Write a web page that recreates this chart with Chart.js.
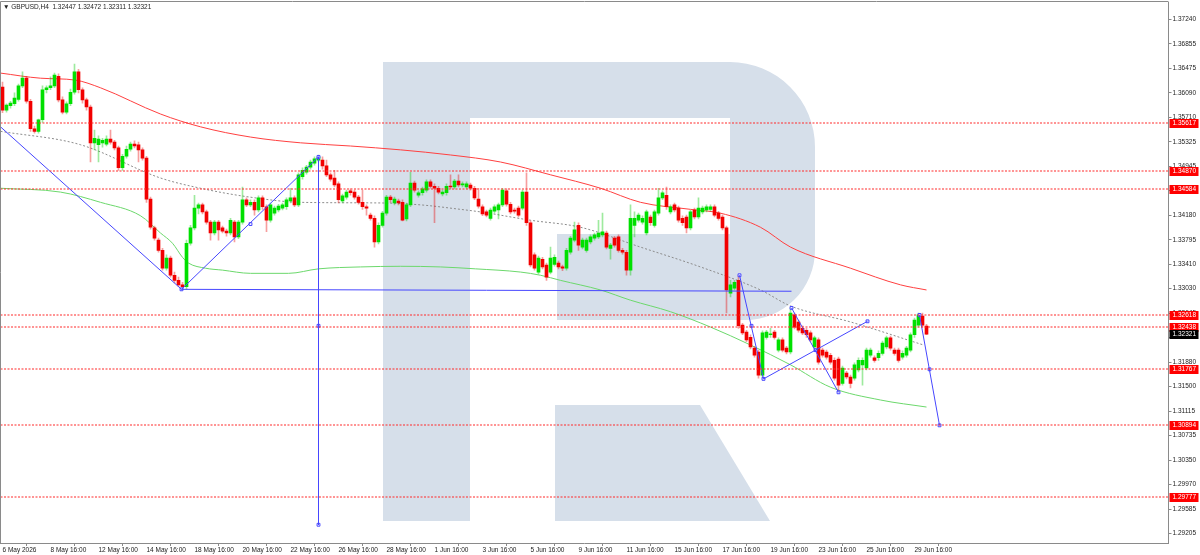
<!DOCTYPE html>
<html><head><meta charset="utf-8">
<script src="https://cdn.jsdelivr.net/npm/chart.js@4.4.1/dist/chart.umd.min.js"></script>
<style>html,body{margin:0;padding:0;background:#fff;overflow:hidden}canvas{display:block}</style>
</head><body>
<canvas id="c" width="1200" height="555"></canvas>
<script>
const symbol = 'GBPUSD,H4';
const totalSlots = 292;
const xTickBars = [0,12,24,36,48,60,72,84,96,108,120,132,144,156,168,180,192,204,216,228];
const xTickLabels = ['6 May 2026','8 May 16:00','12 May 16:00','14 May 16:00','18 May 16:00','20 May 16:00','22 May 16:00','26 May 16:00','28 May 16:00','1 Jun 16:00','3 Jun 16:00','5 Jun 16:00','9 Jun 16:00','11 Jun 16:00','15 Jun 16:00','17 Jun 16:00','19 Jun 16:00','23 Jun 16:00','25 Jun 16:00','29 Jun 16:00'];
const yTickValues = [1.37240,1.36855,1.36475,1.36090,1.35710,1.35325,1.34945,1.34560,1.34180,1.33795,1.33410,1.33030,1.32645,1.32265,1.31880,1.31500,1.31115,1.30735,1.30350,1.29970,1.29585,1.29205];
const yMin = 1.29055, yMax = 1.37511;
const levelPrices = [1.35617,1.34870,1.34584,1.32618,1.32438,1.31767,1.30894,1.29777];

const opens = [
1.3618,1.3582,1.3589,1.3592,1.3599,1.3620,1.3632,1.3596,1.3553,1.3549,
1.3567,1.3614,1.3617,1.3620,1.3635,1.3598,1.3579,1.3592,1.3610,1.3642,
1.3614,1.3598,1.3587,1.3531,1.3528,1.3531,1.3529,1.3537,1.3532,1.3523,
1.3492,1.3510,1.3521,1.3529,1.3528,1.3520,1.3507,1.3443,1.3398,1.3379,
1.3363,1.3335,1.3351,1.3324,1.3316,1.3309,1.3306,1.3374,1.3398,1.3429,
1.3434,1.3423,1.3407,1.3390,1.3407,1.3398,1.3393,1.3390,1.3407,1.3384,
1.3407,1.3442,1.3434,1.3438,1.3426,1.3445,1.3431,1.3410,1.3421,1.3426,
1.3429,1.3431,1.3440,1.3445,1.3434,1.3478,1.3485,1.3493,1.3499,1.3504,
1.3504,1.3495,1.3481,1.3476,1.3467,1.3440,1.3446,1.3456,1.3454,1.3446,
1.3438,1.3431,1.3418,1.3413,1.3376,1.3402,1.3421,1.3446,1.3437,1.3440,
1.3438,1.3412,1.3434,1.3468,1.3449,1.3453,1.3457,1.3470,1.3463,1.3460,
1.3451,1.3453,1.3463,1.3462,1.3471,1.3465,1.3462,1.3465,1.3460,1.3443,
1.3431,1.3423,1.3413,1.3424,1.3426,1.3434,1.3456,1.3435,1.3426,1.3429,
1.3429,1.3454,1.3406,1.3356,1.3329,1.3349,1.3340,1.3329,1.3341,1.3343,
1.3337,1.3335,1.3360,1.3379,1.3402,1.3368,1.3363,1.3376,1.3382,1.3384,
1.3387,1.3390,1.3366,1.3382,1.3384,1.3363,1.3360,1.3332,1.3402,1.3410,
1.3407,1.3390,1.3415,1.3402,1.3421,1.3445,1.3449,1.3423,1.3434,1.3429,
1.3413,1.3415,1.3398,1.3426,1.3415,1.3423,1.3426,1.3427,1.3431,1.3421,
1.3415,1.3398,1.3296,1.3304,1.3316,1.3246,1.3235,1.3227,1.3210,1.3204,
1.3168,1.3227,1.3231,1.3235,1.3207,1.3223,1.3210,1.3204,1.3262,1.3251,
1.3241,1.3238,1.3234,1.3212,1.3223,1.3207,1.3204,1.3199,1.3191,1.3193,
1.3155,1.3171,1.3165,1.3163,1.3176,1.3184,1.3179,1.3199,1.3195,1.3195,
1.3202,1.3212,1.3226,1.3207,1.3207,1.3196,1.3199,1.3207,1.3231,1.3246,
1.3260,1.32447];
const highs = [
1.3626,1.3592,1.3596,1.3609,1.3623,1.3642,1.3635,1.3599,1.3557,1.3568,
1.3620,1.3620,1.3634,1.3640,1.3639,1.3603,1.3595,1.3615,1.3654,1.3646,
1.3617,1.3601,1.3590,1.3551,1.3542,1.3538,1.3542,1.3551,1.3535,1.3526,
1.3513,1.3526,1.3532,1.3534,1.3532,1.3523,1.3510,1.3446,1.3401,1.3382,
1.3366,1.3356,1.3354,1.3329,1.3321,1.3313,1.3379,1.3402,1.3449,1.3437,
1.3437,1.3426,1.3410,1.3410,1.3410,1.3401,1.3396,1.3413,1.3410,1.3410,
1.3462,1.3445,1.3442,1.3442,1.3448,1.3448,1.3434,1.3437,1.3432,1.3435,
1.3437,1.3445,1.3460,1.3448,1.3484,1.3492,1.3496,1.3504,1.3509,1.3512,
1.3509,1.3504,1.3484,1.3488,1.3470,1.3451,1.3457,1.3459,1.3457,1.3449,
1.3457,1.3434,1.3421,1.3417,1.3406,1.3424,1.3449,1.3449,1.3446,1.3443,
1.3442,1.3437,1.3485,1.3471,1.3456,1.3462,1.3473,1.3473,1.3467,1.3463,
1.3457,1.3467,1.3481,1.3474,1.3481,1.3470,1.3470,1.3468,1.3463,1.3460,
1.3434,1.3426,1.3429,1.3434,1.3437,1.3460,1.3459,1.3438,1.3429,1.3432,
1.3457,1.3484,1.3409,1.3359,1.3354,1.3352,1.3343,1.3368,1.3356,1.3346,
1.3340,1.3366,1.3385,1.3407,1.3406,1.3382,1.3382,1.3387,1.3390,1.3410,
1.3421,1.3393,1.3374,1.3385,1.3387,1.3366,1.3363,1.3434,1.3423,1.3421,
1.3417,1.3426,1.3418,1.3426,1.3460,1.3456,1.3462,1.3434,1.3437,1.3432,
1.3417,1.3418,1.3426,1.3429,1.3445,1.3432,1.3434,1.3434,1.3434,1.3424,
1.3418,1.3401,1.3316,1.3316,1.3324,1.3249,1.3238,1.3231,1.3213,1.3207,
1.3237,1.3238,1.3241,1.3238,1.3226,1.3226,1.3213,1.3273,1.3265,1.3254,
1.3245,1.3241,1.3237,1.3229,1.3226,1.3210,1.3207,1.3202,1.3195,1.3196,
1.3182,1.3174,1.3168,1.3187,1.3195,1.3195,1.3210,1.3210,1.3198,1.3206,
1.3221,1.3229,1.3229,1.3210,1.3210,1.3206,1.3213,1.3234,1.3257,1.3265,
1.3265,1.32472];
const lows = [
1.3578,1.3579,1.3585,1.3589,1.3596,1.3617,1.3593,1.3549,1.3546,1.3546,
1.3563,1.3609,1.3614,1.3617,1.3595,1.3576,1.3576,1.3589,1.3607,1.3609,
1.3593,1.3582,1.3501,1.3520,1.3501,1.3524,1.3526,1.3529,1.3520,1.3488,
1.3488,1.3507,1.3518,1.3523,1.3501,1.3504,1.3438,1.3396,1.3379,1.3360,
1.3332,1.3332,1.3321,1.3312,1.3306,1.3302,1.3302,1.3371,1.3395,1.3420,
1.3420,1.3404,1.3379,1.3387,1.3379,1.3390,1.3385,1.3387,1.3376,1.3381,
1.3404,1.3431,1.3431,1.3418,1.3423,1.3427,1.3392,1.3407,1.3418,1.3423,
1.3426,1.3427,1.3437,1.3431,1.3431,1.3474,1.3482,1.3490,1.3496,1.3501,
1.3490,1.3478,1.3471,1.3462,1.3437,1.3437,1.3443,1.3449,1.3443,1.3435,
1.3427,1.3418,1.3410,1.3368,1.3373,1.3399,1.3418,1.3438,1.3434,1.3434,
1.3409,1.3409,1.3431,1.3454,1.3446,1.3449,1.3454,1.3460,1.3406,1.3451,
1.3448,1.3449,1.3459,1.3459,1.3462,1.3462,1.3459,1.3457,1.3442,1.3429,
1.3417,1.3415,1.3410,1.3421,1.3412,1.3431,1.3432,1.3420,1.3421,1.3415,
1.3426,1.3402,1.3337,1.3332,1.3326,1.3334,1.3316,1.3326,1.3338,1.3334,
1.3331,1.3332,1.3357,1.3376,1.3363,1.3365,1.3360,1.3373,1.3379,1.3381,
1.3384,1.3365,1.3349,1.3368,1.3360,1.3357,1.3324,1.3324,1.3384,1.3407,
1.3404,1.3387,1.3402,1.3399,1.3418,1.3442,1.3427,1.3420,1.3423,1.3407,
1.3402,1.3390,1.3395,1.3412,1.3412,1.3420,1.3423,1.3424,1.3415,1.3410,
1.3395,1.3265,1.3290,1.3301,1.3241,1.3231,1.3220,1.3209,1.3196,1.3163,
1.3163,1.3224,1.3227,1.3224,1.3204,1.3204,1.3201,1.3201,1.3240,1.3235,
1.3231,1.3227,1.3220,1.3209,1.3185,1.3196,1.3193,1.3185,1.3160,1.3141,
1.3152,1.3162,1.3148,1.3160,1.3173,1.3152,1.3176,1.3196,1.3188,1.3191,
1.3199,1.3209,1.3207,1.3199,1.3188,1.3193,1.3196,1.3204,1.3227,1.3243,
1.3243,1.32311];
const closes = [
1.3582,1.3590,1.3593,1.3601,1.3620,1.3632,1.3596,1.3553,1.3549,1.3567,
1.3614,1.3617,1.3620,1.3637,1.3598,1.3579,1.3592,1.3610,1.3642,1.3614,
1.3598,1.3587,1.3531,1.3538,1.3537,1.3535,1.3537,1.3532,1.3523,1.3492,
1.3510,1.3521,1.3529,1.3526,1.3520,1.3507,1.3443,1.3399,1.3382,1.3363,
1.3335,1.3351,1.3324,1.3316,1.3309,1.3306,1.3374,1.3398,1.3429,1.3434,
1.3423,1.3407,1.3390,1.3407,1.3395,1.3393,1.3390,1.3410,1.3384,1.3407,
1.3442,1.3434,1.3438,1.3426,1.3445,1.3431,1.3410,1.3434,1.3429,1.3432,
1.3434,1.3442,1.3445,1.3434,1.3481,1.3488,1.3493,1.3501,1.3506,1.3509,
1.3495,1.3481,1.3474,1.3465,1.3442,1.3448,1.3454,1.3453,1.3446,1.3438,
1.3431,1.3429,1.3413,1.3376,1.3402,1.3421,1.3446,1.3442,1.3443,1.3437,
1.3410,1.3434,1.3468,1.3457,1.3453,1.3459,1.3470,1.3463,1.3460,1.3454,
1.3454,1.3463,1.3462,1.3471,1.3465,1.3467,1.3467,1.3460,1.3445,1.3432,
1.3420,1.3418,1.3426,1.3431,1.3434,1.3457,1.3435,1.3423,1.3424,1.3418,
1.3454,1.3406,1.3340,1.3335,1.3351,1.3337,1.3321,1.3351,1.3352,1.3337,
1.3335,1.3363,1.3382,1.3395,1.3371,1.3379,1.3379,1.3384,1.3387,1.3390,
1.3392,1.3368,1.3371,1.3371,1.3363,1.3360,1.3332,1.3413,1.3413,1.3418,
1.3413,1.3423,1.3406,1.3423,1.3445,1.3453,1.3431,1.3431,1.3426,1.3410,
1.3406,1.3398,1.3423,1.3415,1.3429,1.3429,1.3431,1.3431,1.3418,1.3413,
1.3398,1.3301,1.3309,1.3313,1.3245,1.3234,1.3223,1.3212,1.3199,1.3168,
1.3234,1.3235,1.3232,1.3227,1.3223,1.3207,1.3204,1.3265,1.3243,1.3238,
1.3234,1.3231,1.3223,1.3226,1.3188,1.3199,1.3196,1.3188,1.3163,1.3152,
1.3179,1.3165,1.3155,1.3184,1.3191,1.3191,1.3207,1.3207,1.3191,1.3202,
1.3218,1.3226,1.3210,1.3202,1.3191,1.3202,1.3210,1.3231,1.3254,1.3262,
1.3246,1.32321];

// moving averages: [bar position, price]
const redMA = [[-0.5,1.3640],[9.5,1.3632],[18.25,1.3629],[24.5,1.3617],[39.5,1.3576],[49.5,1.3556],[62,1.3540],[74.5,1.3531],[87,1.3526],[99.5,1.3520],[112,1.3512],[124.5,1.3501],[137,1.3481],[149.5,1.3460],[159.5,1.3438],[172,1.3427],[179.5,1.3421],[189.5,1.3399],[197,1.3368],[212,1.3335],[224.5,1.3309],[231,1.3301]];
const greenMA = [[-0.5,1.3460],[14.5,1.3454],[24.5,1.3438],[34.5,1.3417],[39.5,1.3390],[42.5,1.3374],[45,1.3352],[46.5,1.3343],[50.75,1.3335],[55,1.3332],[62,1.3327],[71.5,1.3327],[79,1.3334],[89.5,1.3337],[99.5,1.3338],[109.5,1.3337],[118.25,1.3334],[129.5,1.3329],[134.5,1.3324],[139.5,1.3316],[149.5,1.3301],[157,1.3285],[167,1.3267],[177,1.3243],[187,1.3215],[197,1.3184],[207,1.3149],[219.5,1.3129],[231,1.3118]];
const grayMA = [[-0.5,1.3549],[19.5,1.3528],[39.5,1.3476],[49.5,1.3460],[62,1.3446],[74.5,1.3438],[94.5,1.3437],[104.5,1.3434],[114.5,1.3427],[119.5,1.3423],[132,1.3410],[144.5,1.3399],[159.5,1.3368],[174.5,1.3337],[189.5,1.3301],[197,1.3276],[212,1.3251],[230.25,1.3215]];

// drawn analysis lines: [bar position, price]
const lineDownA = [[-0.5,1.3556],[44.75,1.3302]];
const lineUpB = [[44.75,1.3302],[79,1.3509]];
const lineBase = [[44.75,1.3302],[197.25,1.3299]];
const lineVertical = [[79,1.3509],[79,1.2934]];
const lineDrop1 = [[184.25,1.3324],[190.25,1.3162]];
const lineRise1 = [[190.25,1.3162],[216.25,1.3252]];
const lineDrop2 = [[197.25,1.3273],[209,1.3141]];
const lineDrop3 = [[229.25,1.3262],[234.25,1.30894]];
const lineMarkers = [[44.75,1.3302],[62,1.3404],[79,1.3509],[79,1.3245],[79,1.2934],[184.25,1.3324],[187.25,1.3245],[190.25,1.3162],[216.25,1.3252],[197.25,1.3273],[203.25,1.3207],[209,1.3141],[229.25,1.3262],[231.75,1.3177],[234.25,1.30894]];

const FONT = "'Liberation Sans',Arial,sans-serif";
const categories = Array.from({length: totalSlots}, (_, i) => String(i));
const bull = closes.map((c, i) => c >= opens[i]);
const pts = arr => arr.map(p => ({x: p[0], y: p[1]}));
const BLUE = '#4646ff';
const blueLine = d => ({type:'line', data: pts(d), xAxisID:'x2', yAxisID:'y', borderColor: BLUE, borderWidth:1, pointRadius:0, tension:0, order:0});
const noPad = s => { s.paddingTop = 0; s.paddingBottom = 0; s.paddingLeft = 0; s.paddingRight = 0; };

const overlay = {
  id: 'overlay',
  beforeDatasetsDraw(chart) {
    const c = chart.ctx, a = chart.chartArea;
    c.save();
    c.beginPath(); c.rect(a.left, a.top, a.right - a.left, a.bottom - a.top); c.clip();
    c.fillStyle = '#d6dfea';
    c.fillRect(383, 62, 87, 459);
    c.beginPath();
    c.moveTo(470, 62); c.lineTo(730, 62);
    c.arcTo(815, 62, 815, 150, 85);
    c.lineTo(815, 250);
    c.arcTo(815, 320, 745, 320, 70);
    c.lineTo(557, 320); c.lineTo(557, 234); c.lineTo(730, 234); c.lineTo(730, 118); c.lineTo(470, 118);
    c.closePath(); c.fill();
    c.beginPath();
    c.moveTo(555, 405); c.lineTo(700, 405); c.lineTo(770, 521); c.lineTo(555, 521);
    c.closePath(); c.fill();
    c.restore();
  },
  afterDatasetsDraw(chart) {
    const c = chart.ctx, a = chart.chartArea, y = chart.scales.y;
    c.save();
    c.strokeStyle = '#ff2a2a'; c.lineWidth = 1.2; c.setLineDash([2, 1.5]);
    levelPrices.forEach(p => {
      const py = Math.round(y.getPixelForValue(p));
      c.beginPath(); c.moveTo(a.left, py); c.lineTo(a.right, py); c.stroke();
    });
    c.restore();
  },
  afterDraw(chart) {
    const c = chart.ctx, a = chart.chartArea, y = chart.scales.y;
    c.save();
    c.strokeStyle = '#8a8a8a'; c.lineWidth = 1;
    c.beginPath(); c.moveTo(0.5, a.bottom); c.lineTo(0.5, 1.5); c.lineTo(a.right, 1.5); c.stroke();
    c.font = '6.5px ' + FONT; c.textBaseline = 'middle'; c.textAlign = 'left';
    const box = (p, bg) => {
      const py = Math.round(y.getPixelForValue(p));
      c.fillStyle = bg; c.fillRect(a.right + 1, py - 4, 29, 9);
      c.fillStyle = '#fff'; c.fillText(p.toFixed(5), a.right + 4, py + 0.5);
    };
    levelPrices.forEach(p => box(p, '#ff0000'));
    const last = closes.length - 1;
    box(closes[last], '#000000');
    c.fillStyle = '#222'; c.font = '6.5px ' + FONT; c.textBaseline = 'middle';
    c.fillText('\u25BC ' + symbol + '  ' + [opens[last], highs[last], lows[last], closes[last]].map(v => v.toFixed(5)).join(' '), 3, 7);
    c.restore();
  }
};

new Chart(document.getElementById('c'), {
  type: 'bar',
  data: {
    labels: categories,
    datasets: [
      {label:'bodies', data: opens.map((o, i) => [o, closes[i]]), backgroundColor: bull.map(b => b ? '#00e000' : '#f20000'), barThickness:3, grouped:false, minBarLength:1, order:1, xAxisID:'x', yAxisID:'y'},
      {label:'wicks', data: lows.map((l, i) => [l, highs[i]]), backgroundColor: bull.map(b => b ? 'rgba(0,200,0,0.38)' : 'rgba(235,0,0,0.38)'), barThickness:1, grouped:false, order:2, xAxisID:'x', yAxisID:'y'},
      {type:'line', data: pts(redMA), xAxisID:'x2', yAxisID:'y', borderColor:'#ff4040', borderWidth:1, pointRadius:0, cubicInterpolationMode:'monotone', order:5},
      {type:'line', data: pts(greenMA), xAxisID:'x2', yAxisID:'y', borderColor:'#6cd86c', borderWidth:1, pointRadius:0, cubicInterpolationMode:'monotone', order:5},
      {type:'line', data: pts(grayMA), xAxisID:'x2', yAxisID:'y', borderColor:'#8c8c8c', borderWidth:1, borderDash:[2,2], pointRadius:0, cubicInterpolationMode:'monotone', order:5},
      blueLine(lineDownA), blueLine(lineUpB), blueLine(lineBase), blueLine(lineVertical),
      blueLine(lineDrop1), blueLine(lineRise1), blueLine(lineDrop2), blueLine(lineDrop3),
      {type:'line', data: pts(lineMarkers), xAxisID:'x2', yAxisID:'y', showLine:false, pointStyle:'rect', pointRadius:2, pointHoverRadius:2, borderColor:BLUE, pointBackgroundColor:'#ffffff', pointBorderWidth:1, order:0}
    ]
  },
  options: {
    responsive:false, animation:false, devicePixelRatio:1,
    layout:{autoPadding:false, padding:{left:0.5, top:2, right:0, bottom:0}},
    plugins:{legend:{display:false}, tooltip:{enabled:false}},
    scales:{
      x:{type:'category', offset:true,
         afterFit: s => { s.height = 12; noPad(s); },
         afterBuildTicks: s => { s.ticks = s.ticks.filter(t => xTickBars.includes(t.value)); },
         grid:{drawOnChartArea:false, drawTicks:true, tickLength:3, color:'#8a8a8a'},
         border:{display:true, color:'#8a8a8a'},
         ticks:{autoSkip:false, maxRotation:0, minRotation:0, align:'start', padding:0, color:'#222', font:{family:FONT, size:6.5},
                callback: v => { const k = xTickBars.indexOf(v); return k >= 0 ? xTickLabels[k] : ''; }}},
      x2:{type:'linear', display:false, min:-0.5, max:totalSlots - 0.5, offset:false},
      y:{type:'linear', position:'right', min:yMin, max:yMax,
         afterFit: s => { s.width = 31.5; noPad(s); },
         afterBuildTicks: s => { s.ticks = yTickValues.map(v => ({value: v})); },
         grid:{drawOnChartArea:false, drawTicks:true, tickLength:3, color:'#8a8a8a'},
         border:{display:true, color:'#8a8a8a'},
         ticks:{padding:1, color:'#222', font:{family:FONT, size:6.5}, callback: v => v.toFixed(5)}}
    }
  },
  plugins:[overlay]
});
</script>
</body></html>
